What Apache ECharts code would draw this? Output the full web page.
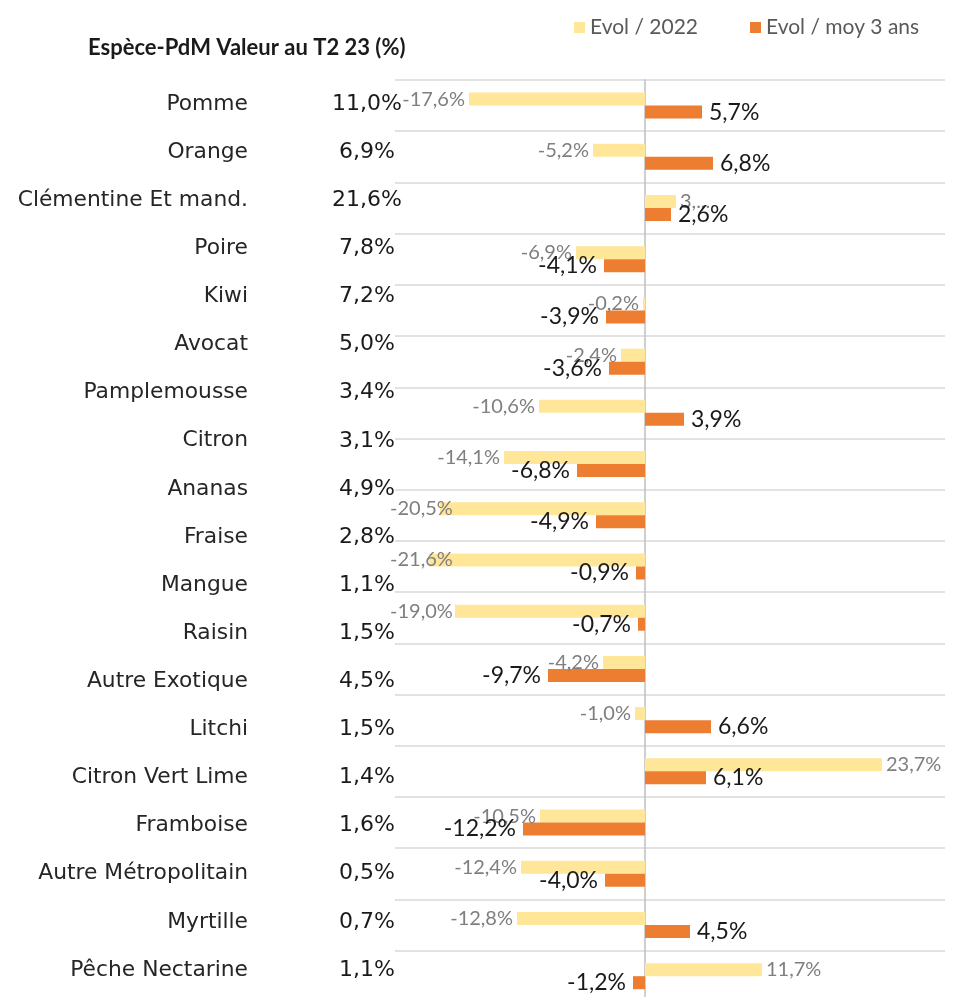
<!DOCTYPE html>
<html>
<head>
<meta charset="utf-8">
<script src="https://cdn.jsdelivr.net/npm/echarts@6/dist/echarts.min.js"></script>
<style>
  html, body { margin: 0; padding: 0; background: #fff; }
  #chart { width: 957px; height: 997px; }
</style>
</head>
<body>
<div id="chart"></div>
<script>
// especes (tableau de gauche)
var especes = ['Pomme', 'Orange', 'Clémentine Et mand.', 'Poire', 'Kiwi', 'Avocat', 'Pamplemousse', 'Citron',
  'Ananas', 'Fraise', 'Mangue', 'Raisin', 'Autre Exotique', 'Litchi', 'Citron Vert Lime', 'Framboise',
  'Autre Métropolitain', 'Myrtille', 'Pêche Nectarine']
// PdM valeur au T2 23 (%)
var pdm = [11.0, 6.9, 21.6, 7.8, 7.2, 5.0, 3.4, 3.1, 4.9, 2.8, 1.1, 1.5, 4.5, 1.5, 1.4, 1.6, 0.5, 0.7, 1.1]
// evolutions (%) - la derniere ligne est coupee en bas de l'image
var evol2022 = [-17.6, -5.2, 3.1, -6.9, -0.2, -2.4, -10.6, -14.1, -20.5, -21.6, -19.0, -4.2, -1.0, 23.7, -10.5, -12.4, -12.8, 11.7, null]
var evolMoy3 = [5.7, 6.8, 2.6, -4.1, -3.9, -3.6, 3.9, -6.8, -4.9, -0.9, -0.7, -9.7, 6.6, 6.1, -12.2, -4.0, 4.5, -1.2, null]
// libelle tronque dans l'original
var labelsTronques = { 2: '3,...' }

function pct (v) {
  return v.toFixed(1).replace('.', ',') + '%'
}

function buildData (arr, tronques) {
  return arr.map(function (v, i) {
    if (v === null) return '-'
    var item = { value: v, label: { position: v < 0 ? 'left' : 'right' } }
    if (tronques && tronques[i]) item.label.formatter = tronques[i]
    return item
  })
}

var myChart = echarts.init(document.getElementById('chart'))
var option = {
  backgroundColor: '#fff',
  animation: false,
  title: {
    text: 'Espèce-PdM Valeur au T2 23 (%)',
    left: 83,
    top: 32,
    textStyle: { fontFamily: 'Lato', fontSize: 22, fontWeight: 'bold', color: '#1a1a1a' }
  },
  legend: {
    left: 569,
    top: 12,
    icon: 'rect',
    itemWidth: 11,
    itemHeight: 11,
    itemGap: 52,
    textStyle: { fontFamily: 'Lato', fontSize: 21, color: '#595959' },
    data: ['Evol / 2022', 'Evol / moy 3 ans']
  },
  grid: [
    { left: 395, top: 80, width: 550, height: 973, outerBoundsMode: 'none' },
    { left: 248, top: 80, width: 1, height: 914, outerBoundsMode: 'none' },
    { left: 367, top: 80, width: 1, height: 914, outerBoundsMode: 'none' }
  ],
  xAxis: [
    { type: 'value', gridIndex: 0, min: -25, max: 30, show: false },
    { type: 'value', gridIndex: 1, min: 0, max: 1, show: false },
    { type: 'value', gridIndex: 2, min: 0, max: 1, show: false }
  ],
  yAxis: [
    {
      type: 'category',
      gridIndex: 0,
      inverse: true,
      data: especes,
      axisLabel: { show: false },
      axisTick: { show: false },
      axisLine: { show: true, lineStyle: { color: '#bfbfbf', width: 1.5 } },
      splitLine: { show: true, lineStyle: { color: '#d9d9d9', width: 1.5 } }
    },
    {
      type: 'category',
      gridIndex: 1,
      inverse: true,
      data: especes,
      axisLine: { show: false, onZero: false },
      axisTick: { show: false },
      axisLabel: { margin: 0, fontFamily: 'DejaVu Sans', fontSize: 21.8, color: '#262626' }
    },
    {
      type: 'category',
      gridIndex: 2,
      inverse: true,
      data: especes,
      axisLine: { show: false, onZero: false },
      axisTick: { show: false },
      axisLabel: {
        margin: 0,
        align: 'center',
        fontFamily: 'DejaVu Sans',
        fontSize: 22,
        color: '#1a1a1a',
        formatter: function (val, idx) { return pct(pdm[idx]) }
      }
    }
  ],
  series: [
    {
      name: 'Evol / 2022',
      type: 'bar',
      xAxisIndex: 0,
      yAxisIndex: 0,
      barWidth: 13,
      barGap: '0%',
      itemStyle: { color: '#ffe699' },
      label: {
        show: true,
        distance: 4,
        fontFamily: 'Lato',
        fontSize: 20,
        color: '#7f7f7f',
        formatter: function (p) { return pct(p.value) }
      },
      // comme Excel : on garde les etiquettes dans la zone du graphe
      labelLayout: function (params) {
        var r = params.labelRect
        if (r.x < 390) {
          return { x: 390, y: r.y + r.height / 2, align: 'left', verticalAlign: 'middle' }
        }
      },
      data: buildData(evol2022, labelsTronques)
    },
    {
      name: 'Evol / moy 3 ans',
      type: 'bar',
      xAxisIndex: 0,
      yAxisIndex: 0,
      barWidth: 13,
      barGap: '0%',
      itemStyle: { color: '#ed7d31' },
      label: {
        show: true,
        distance: 7,
        fontFamily: 'Lato',
        fontSize: 23,
        color: '#1a1a1a',
        formatter: function (p) { return pct(p.value) }
      },
      data: buildData(evolMoy3)
    }
  ]
}
myChart.setOption(option)
</script>
</body>
</html>
